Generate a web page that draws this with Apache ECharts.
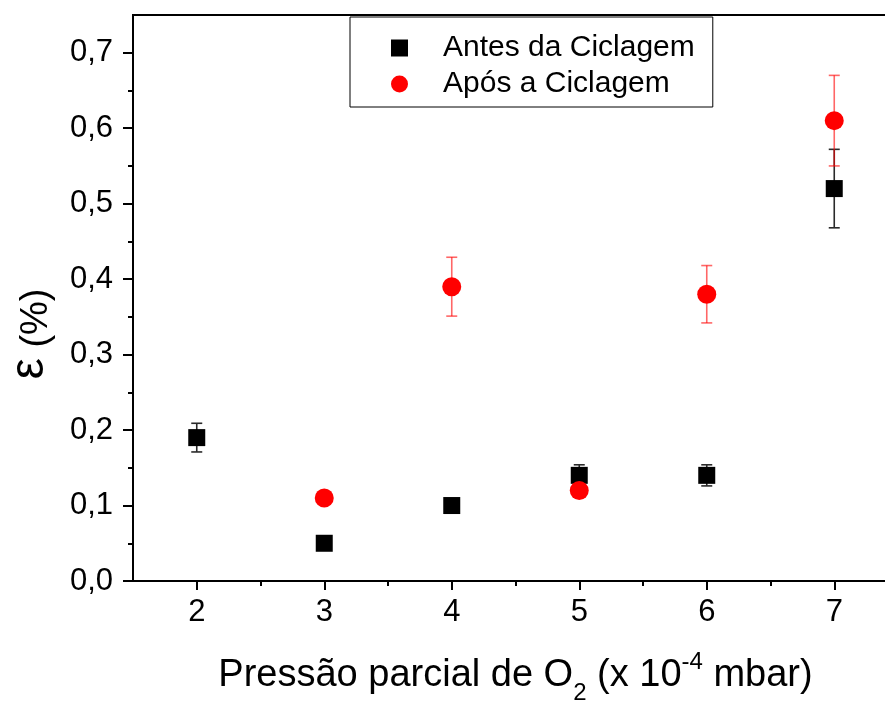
<!DOCTYPE html>
<html>
<head>
<meta charset="utf-8">
<script src="https://cdn.jsdelivr.net/npm/echarts@6/dist/echarts.min.js"></script>
<style>
  html, body { margin: 0; padding: 0; background: #fff; overflow: hidden; }
  #chart { width: 905px; height: 701px; }
</style>
</head>
<body>
<div id="chart"></div>
<script>
// dados
const pressao = [2, 3, 4, 5, 6, 7];
const antes = [0.19, 0.05, 0.10, 0.14, 0.14, 0.52];
const antesErro = [0.019, 0, 0, 0.014, 0.014, 0.052];
const aposX = [3, 4, 5, 6, 7];
const apos = [0.11, 0.39, 0.12, 0.38, 0.61];
const aposErro = [0, 0.039, 0.008, 0.038, 0.06];
const xMajor = [2, 3, 4, 5, 6, 7];
const xMinor = [2.5, 3.5, 4.5, 5.5, 6.5];
const yMajor = [0, 0.1, 0.2, 0.3, 0.4, 0.5, 0.6, 0.7];
const yMinor = [0.05, 0.15, 0.25, 0.35, 0.45, 0.55, 0.65];

const FONT = 'Liberation Sans, Arial, sans-serif';

const antesData = pressao.map((x, i) => [x, antes[i], antesErro[i]]);
const aposData = aposX.map((x, i) => [x, apos[i], aposErro[i]]);

// barras de erro
function errorBars(color) {
    return function (params, api) {
        const x = api.value(0), y = api.value(1), e = api.value(2);
        if (!e) return null;
        const top = api.coord([x, y + e]);
        const bot = api.coord([x, y - e]);
        const w = 5.5;
        const style = { stroke: color, lineWidth: 1.6 };
        return {
            type: 'group',
            children: [
                { type: 'line', shape: { x1: top[0], y1: top[1], x2: bot[0], y2: bot[1] }, style: style },
                { type: 'line', shape: { x1: top[0] - w, y1: top[1], x2: top[0] + w, y2: top[1] }, style: style },
                { type: 'line', shape: { x1: bot[0] - w, y1: bot[1], x2: bot[0] + w, y2: bot[1] }, style: style }
            ]
        };
    };
}

const fmt = v => v.toFixed(1).replace('.', ',');

const chart = echarts.init(document.getElementById('chart'));
chart.setOption({
    animation: false,
    backgroundColor: '#fff',
    grid: {
        left: 133, top: 15, width: 765, height: 566,
        outerBoundsMode: 'none',
        show: true, borderColor: '#000', borderWidth: 2, backgroundColor: 'transparent'
    },
    graphic: [{
        type: 'text',
        x: 31, y: 334,
        rotation: Math.PI / 2,
        style: {
            text: '{e|ε}{p| (%)}',
            align: 'center', verticalAlign: 'middle',
            rich: {
                e: { fontFamily: FONT, fontSize: 48, fill: '#000', verticalAlign: 'bottom', padding: [0, 0, 2, 0] },
                p: { fontFamily: FONT, fontSize: 38, fill: '#000', verticalAlign: 'bottom' }
            }
        }
    }],
    legend: {
        orient: 'vertical',
        left: 350, top: 17,
        padding: [16, 18, 8, 41],
        borderColor: '#000', borderWidth: 1,
        itemWidth: 17, itemHeight: 17,
        itemGap: 6,
        textStyle: { fontFamily: FONT, fontSize: 30, color: '#000', lineHeight: 30, padding: [0, 0, 0, 30] },
        data: [
            { name: 'Antes da Ciclagem', icon: 'rect' },
            { name: 'Após a Ciclagem', icon: 'circle' }
        ]
    },
    xAxis: [{
        type: 'value', min: 1.5, max: 7.5,
        name: '{t|Pressão parcial de O}{sub|2}{t| (x 10}{sup|-4}{t| mbar)}',
        nameLocation: 'middle', nameGap: 66,
        nameTextStyle: {
            rich: {
                t: { fontFamily: FONT, fontSize: 38, color: '#000', lineHeight: 40 },
                sub: { fontFamily: FONT, fontSize: 24, color: '#000', verticalAlign: 'top', padding: [34, 0, 0, 0] },
                sup: { fontFamily: FONT, fontSize: 24, color: '#000', verticalAlign: 'bottom', padding: [0, 0, 31, 0] }
            }
        },
        axisLine: { onZero: false, lineStyle: { color: '#000', width: 2 } },
        axisTick: { inside: false, length: 9, customValues: xMajor, lineStyle: { color: '#000', width: 2 } },
        axisLabel: { customValues: xMajor, margin: 16, fontFamily: FONT, fontSize: 31, color: '#000' },
        splitLine: { show: false }
    }, {
        type: 'value', min: 1.5, max: 7.5, position: 'bottom',
        axisLine: { show: false },
        axisTick: { inside: false, length: 5, customValues: xMinor, lineStyle: { color: '#000', width: 2 } },
        axisLabel: { show: false },
        splitLine: { show: false }
    }],
    yAxis: [{
        type: 'value', min: 0, max: 0.75,
        axisLine: { onZero: false, lineStyle: { color: '#000', width: 2 } },
        axisTick: { inside: false, length: 10, customValues: yMajor, lineStyle: { color: '#000', width: 2 } },
        axisLabel: { customValues: yMajor, formatter: fmt, margin: 20, fontFamily: FONT, fontSize: 31, color: '#000' },
        splitLine: { show: false }
    }, {
        type: 'value', min: 0, max: 0.75, position: 'left',
        axisLine: { show: false },
        axisTick: { inside: false, length: 5, customValues: yMinor, lineStyle: { color: '#000', width: 2 } },
        axisLabel: { show: false },
        splitLine: { show: false }
    }],
    series: [{
        type: 'custom',
        renderItem: errorBars('#2a2a2a'),
        data: antesData,
        z: 3
    }, {
        type: 'custom',
        renderItem: errorBars('rgba(255,0,0,0.6)'),
        data: aposData,
        z: 3
    }, {
        name: 'Antes da Ciclagem',
        type: 'scatter',
        symbol: 'rect',
        symbolSize: 17,
        itemStyle: { color: '#000', opacity: 1 },
        data: antesData,
        z: 4
    }, {
        name: 'Após a Ciclagem',
        type: 'scatter',
        symbol: 'circle',
        symbolSize: 19,
        itemStyle: { color: '#ff0000', opacity: 1 },
        data: aposData,
        z: 4
    }]
});
</script>
</body>
</html>
